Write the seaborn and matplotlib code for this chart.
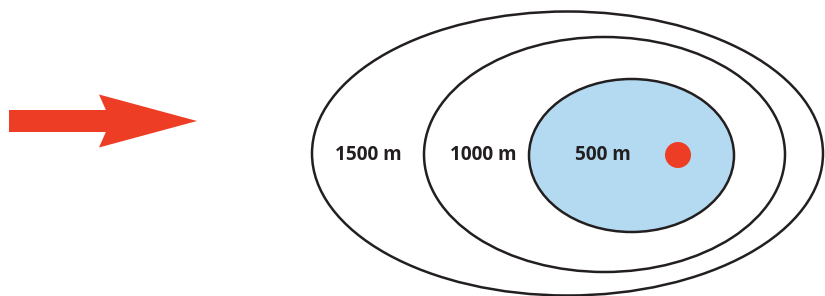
import matplotlib
matplotlib.use("Agg")
import matplotlib.pyplot as plt
import seaborn as sns
from matplotlib.patches import Ellipse, FancyArrow

# zones, outermost first (pixel-like units, y pointing down)
labels = ["1500 m", "1000 m", "500 m"]
centers_x = [567.5, 604.5, 631.5]
centers_y = [153.5, 154.5, 155.5]
widths = [511, 361, 205]
heights = [284, 235, 153]
fills = ["white", "white", "#b3daf0"]
label_x = [368.5, 483, 603]
label_y = [155, 155, 155]

# source point
source_x = [678]
source_y = [155]
source_r = 13

# wind arrow
arrow_start = (9, 121)
arrow_len = 188

red = "#ee3d25"
ink = "#231f20"

sns.set_theme(style="white")
plt.rcParams["font.family"] = ["Open Sans", "DejaVu Sans"]

fig, ax = plt.subplots(figsize=(8.25, 2.96), dpi=100)
fig.subplots_adjust(left=0, right=1, bottom=0, top=1)
ax.set_xlim(0, 825)
ax.set_ylim(296, 0)
ax.set_aspect("equal")
ax.axis("off")

for cx, cy, w, h, fc in zip(centers_x, centers_y, widths, heights, fills):
    ax.add_patch(Ellipse((cx, cy), w, h, facecolor=fc, edgecolor=ink, lw=1.8, zorder=2))

for x, y, t in zip(label_x, label_y, labels):
    ax.text(x, y, t, ha="center", va="center", fontsize=13.7,
            fontweight="bold", color=ink, zorder=4)

for x, y in zip(source_x, source_y):
    ax.add_patch(plt.Circle((x, y), source_r, color=red, lw=0, zorder=3))

ax.add_patch(FancyArrow(arrow_start[0], arrow_start[1], arrow_len, 0,
                        width=22, head_width=53, head_length=98, overhang=0.07,
                        length_includes_head=True, color=red, lw=0))

fig.savefig("out.png", dpi=100)
